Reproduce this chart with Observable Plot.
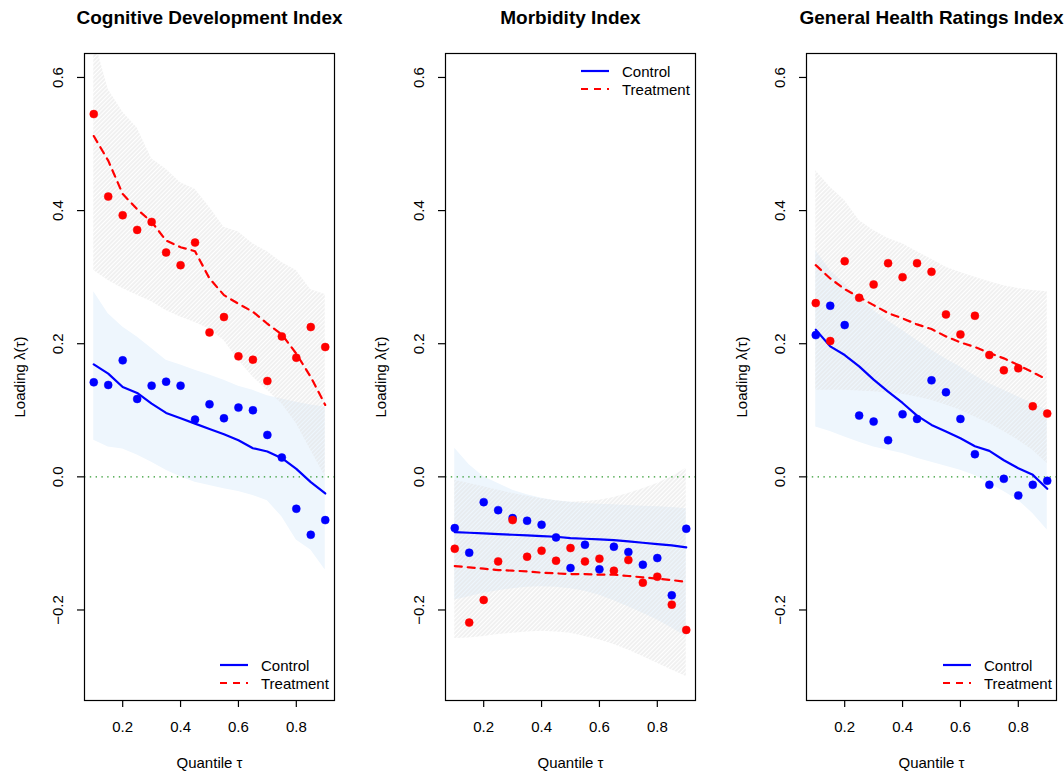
<!DOCTYPE html>
<html>
<head>
<meta charset="utf-8">
<script src="https://cdn.jsdelivr.net/npm/d3@7"></script>
<script src="https://cdn.jsdelivr.net/npm/@observablehq/plot@0.6"></script>
<style>
  html, body { margin: 0; padding: 0; background: #fff; }
  body { width: 1064px; height: 775px; position: relative; overflow: hidden;
         font-family: "Liberation Sans", Arial, Helvetica, sans-serif; }
  .panel { position: absolute; top: 0; }
  .leg { position: absolute; display: flex; align-items: center; height: 18px;
         font-size: 15px; color: #000; white-space: nowrap; }
  .leg svg { margin-right: 13px; }
</style>
</head>
<body>
<svg width="0" height="0" style="position:absolute">
  <defs>
    <pattern id="hatch" patternUnits="userSpaceOnUse" width="3" height="3" patternTransform="rotate(45)">
      <line x1="1" y1="0" x2="1" y2="3" stroke="#e2e2e2" stroke-width="1"></line>
    </pattern>
  </defs>
</svg>
<div id="p1" class="panel" style="left:0px"></div>
<div id="p2" class="panel" style="left:361px"></div>
<div id="p3" class="panel" style="left:722px"></div>
<script>
// ---------- data ----------
const tau = [0.10,0.15,0.20,0.25,0.30,0.35,0.40,0.45,0.50,0.55,0.60,0.65,0.70,0.75,0.80,0.85,0.90];
const xTicks = [0.2, 0.4, 0.6, 0.8];
const yTicks = [-0.2, 0.0, 0.2, 0.4, 0.6];
const titles = ["Cognitive Development Index", "Morbidity Index", "General Health Ratings Index"];
const seriesNames = ["Control", "Treatment"];

// Cognitive Development Index
const cogCtrlPts  = [0.142,0.138,0.175,0.117,0.137,0.143,0.137,0.086,0.109,0.088,0.104,0.100,0.063,0.029,-0.048,-0.087,-0.065];
const cogTrtPts   = [0.545,0.421,0.393,0.371,0.383,0.337,0.318,0.352,0.217,0.240,0.181,0.176,0.144,0.211,0.179,0.225,0.195];
const cogCtrlLine = [0.169,0.155,0.135,0.126,0.110,0.096,0.088,0.080,0.072,0.064,0.055,0.043,0.038,0.028,0.012,-0.008,-0.025];
const cogTrtLine  = [0.512,0.475,0.425,0.402,0.383,0.355,0.345,0.339,0.298,0.273,0.260,0.248,0.230,0.214,0.185,0.150,0.108];
const cogCtrlLo   = [0.055,0.045,0.042,0.033,0.022,0.010,0.000,-0.008,-0.013,-0.018,-0.022,-0.028,-0.036,-0.060,-0.095,-0.110,-0.140];
const cogCtrlHi   = [0.278,0.245,0.225,0.210,0.193,0.175,0.168,0.160,0.153,0.145,0.136,0.130,0.122,0.117,0.112,0.108,0.105];
const cogTrtLo    = [0.310,0.295,0.283,0.273,0.263,0.250,0.240,0.232,0.222,0.205,0.175,0.150,0.130,0.110,0.080,0.040,0.000];
const cogTrtHi    = [0.660,0.582,0.548,0.524,0.478,0.462,0.442,0.432,0.405,0.375,0.368,0.350,0.338,0.322,0.310,0.281,0.274];

// Morbidity Index
const morCtrlPts  = [-0.077,-0.114,-0.038,-0.050,-0.062,-0.066,-0.072,-0.091,-0.137,-0.102,-0.139,-0.105,-0.113,-0.132,-0.122,-0.178,-0.078];
const morTrtPts   = [-0.108,-0.219,-0.185,-0.127,-0.065,-0.120,-0.111,-0.126,-0.107,-0.127,-0.123,-0.141,-0.125,-0.159,-0.150,-0.192,-0.230];
const morCtrlLine = [-0.083,-0.084,-0.085,-0.086,-0.087,-0.088,-0.089,-0.090,-0.092,-0.093,-0.094,-0.095,-0.097,-0.099,-0.101,-0.103,-0.106];
const morTrtLine  = [-0.134,-0.136,-0.138,-0.140,-0.141,-0.142,-0.144,-0.145,-0.146,-0.146,-0.147,-0.147,-0.149,-0.151,-0.153,-0.155,-0.158];
const morCtrlLo   = [-0.185,-0.180,-0.175,-0.171,-0.168,-0.166,-0.165,-0.166,-0.168,-0.172,-0.178,-0.186,-0.195,-0.205,-0.215,-0.227,-0.240];
const morCtrlHi   = [0.043,0.018,0.000,-0.010,-0.020,-0.027,-0.032,-0.036,-0.038,-0.040,-0.041,-0.042,-0.043,-0.044,-0.045,-0.046,-0.048];
const morTrtLo    = [-0.243,-0.242,-0.240,-0.237,-0.235,-0.233,-0.232,-0.233,-0.235,-0.240,-0.245,-0.252,-0.260,-0.270,-0.280,-0.290,-0.300];
const morTrtHi    = [-0.005,-0.010,-0.015,-0.020,-0.025,-0.029,-0.033,-0.036,-0.038,-0.037,-0.035,-0.031,-0.025,-0.018,-0.010,0.000,0.013];

// General Health Ratings Index
const ghCtrlPts  = [0.213,0.257,0.228,0.092,0.083,0.055,0.094,0.087,0.145,0.127,0.087,0.034,-0.012,-0.003,-0.028,-0.012,-0.006];
const ghTrtPts   = [0.261,0.204,0.324,0.269,0.289,0.321,0.300,0.321,0.308,0.244,0.214,0.242,0.183,0.160,0.163,0.106,0.095];
const ghCtrlLine = [0.221,0.196,0.183,0.166,0.146,0.128,0.111,0.092,0.078,0.068,0.058,0.046,0.039,0.025,0.013,0.003,-0.018];
const ghTrtLine  = [0.318,0.298,0.282,0.270,0.258,0.246,0.238,0.229,0.222,0.211,0.202,0.195,0.186,0.178,0.168,0.157,0.146];
const ghCtrlLo   = [0.075,0.068,0.060,0.052,0.045,0.040,0.035,0.028,0.022,0.016,0.010,0.002,-0.010,-0.022,-0.035,-0.055,-0.080];
const ghCtrlHi   = [0.340,0.310,0.290,0.268,0.250,0.234,0.220,0.205,0.190,0.177,0.165,0.152,0.140,0.130,0.120,0.110,0.100];
const ghTrtLo    = [0.130,0.130,0.130,0.129,0.128,0.126,0.124,0.120,0.115,0.108,0.100,0.090,0.080,0.068,0.055,0.040,0.020];
const ghTrtHi    = [0.460,0.435,0.415,0.385,0.370,0.358,0.350,0.338,0.327,0.315,0.307,0.300,0.293,0.287,0.283,0.280,0.278];

// ---------- drawing ----------
const FONT = '"Liberation Sans", Arial, Helvetica, sans-serif';
const fmtY = d => d < 0 ? "\u2212" + Math.abs(d).toFixed(1) : d.toFixed(1);

function makePanel(title, s, width, marginRight) {
  const data = tau.map((t, i) => ({
    t, ctrlPt: s.ctrlPts[i], trtPt: s.trtPts[i], ctrlLine: s.ctrlLine[i], trtLine: s.trtLine[i],
    ctrlLo: s.ctrlLo[i], ctrlHi: s.ctrlHi[i], trtLo: s.trtLo[i], trtHi: s.trtHi[i]
  }));
  return Plot.plot({
    width, height: 775,
    marginLeft: 84, marginRight, marginTop: 53, marginBottom: 75,
    style: {fontFamily: FONT, fontSize: "15px", background: "transparent", color: "#000", overflow: "visible"},
    x: {domain: [0.068, 0.932]},
    y: {domain: [-0.336, 0.636]},
    marks: [
      Plot.areaY(data, {x: "t", y1: "ctrlLo", y2: "ctrlHi", fill: "#EEF6FD", clip: true}),
      Plot.areaY(data, {x: "t", y1: "trtLo", y2: "trtHi", fill: "url(#hatch)", clip: true}),
      Plot.ruleY([0], {stroke: "#2f9a2f", strokeWidth: 1.4, strokeDasharray: "1.4,4.4"}),
      Plot.line(data, {x: "t", y: "ctrlLine", stroke: "#0000ff", strokeWidth: 2.2}),
      Plot.line(data, {x: "t", y: "trtLine", stroke: "#ff0000", strokeWidth: 2.2, strokeDasharray: "7,6"}),
      Plot.dot(data, {x: "t", y: "ctrlPt", r: 4, fill: "#0000ff", stroke: "#0000ff", strokeWidth: 0.5}),
      Plot.dot(data, {x: "t", y: "trtPt", r: 4, fill: "#ff0000", stroke: "#ff0000", strokeWidth: 0.5}),
      Plot.frame({stroke: "#000", strokeWidth: 1.2}),
      Plot.axisX({ticks: xTicks, tickSize: 7, tickPadding: 14, tickFormat: d => d.toFixed(1), label: null, strokeWidth: 1.2}),
      Plot.axisY({ticks: yTicks, tickSize: 7, tickFormat: () => "", label: null, strokeWidth: 1.2}),
      Plot.text(yTicks, {y: d => d, text: fmtY, frameAnchor: "left", dx: -26.5, rotate: -90,
                         textAnchor: "middle", lineAnchor: "middle", fontSize: 15}),
      Plot.text([title], {frameAnchor: "top", dy: -35.5, textAnchor: "middle", lineAnchor: "middle",
                          fontWeight: "bold", fontSize: 19}),
      Plot.text(["Loading \u03bb(\u03c4)"], {frameAnchor: "left", dx: -64, rotate: -90,
                                             textAnchor: "middle", lineAnchor: "middle", fontSize: 15}),
      Plot.text(["Quantile \u03c4"], {frameAnchor: "bottom", dy: 63, textAnchor: "middle",
                                      lineAnchor: "middle", fontSize: 15})
    ]
  });
}

document.getElementById("p1").append(makePanel(titles[0], {
  ctrlPts: cogCtrlPts, trtPts: cogTrtPts, ctrlLine: cogCtrlLine, trtLine: cogTrtLine,
  ctrlLo: cogCtrlLo, ctrlHi: cogCtrlHi, trtLo: cogTrtLo, trtHi: cogTrtHi}, 355, 21));
document.getElementById("p2").append(makePanel(titles[1], {
  ctrlPts: morCtrlPts, trtPts: morTrtPts, ctrlLine: morCtrlLine, trtLine: morTrtLine,
  ctrlLo: morCtrlLo, ctrlHi: morCtrlHi, trtLo: morTrtLo, trtHi: morTrtHi}, 355, 21));
document.getElementById("p3").append(makePanel(titles[2], {
  ctrlPts: ghCtrlPts, trtPts: ghTrtPts, ctrlLine: ghCtrlLine, trtLine: ghTrtLine,
  ctrlLo: ghCtrlLo, ctrlHi: ghCtrlHi, trtLo: ghTrtLo, trtHi: ghTrtHi}, 342, 8));

// legends (HTML overlays)
function legend(left, top) {
  const styles = [{stroke: "#0000ff", dash: ""}, {stroke: "#ff0000", dash: "7,6"}];
  seriesNames.forEach((name, i) => {
    const row = document.createElement("div");
    row.className = "leg";
    row.style.left = left + "px";
    row.style.top = (top + i * 18) + "px";
    row.innerHTML = `<svg width="28" height="4"><line x1="0" y1="2" x2="28" y2="2" stroke="${styles[i].stroke}" stroke-width="2.2" ${styles[i].dash ? `stroke-dasharray="${styles[i].dash}"` : ""}></line></svg><span>${name}</span>`;
    document.body.append(row);
  });
}
legend(220, 656);
legend(581, 62);
legend(943, 656);
</script>
</body>
</html>
